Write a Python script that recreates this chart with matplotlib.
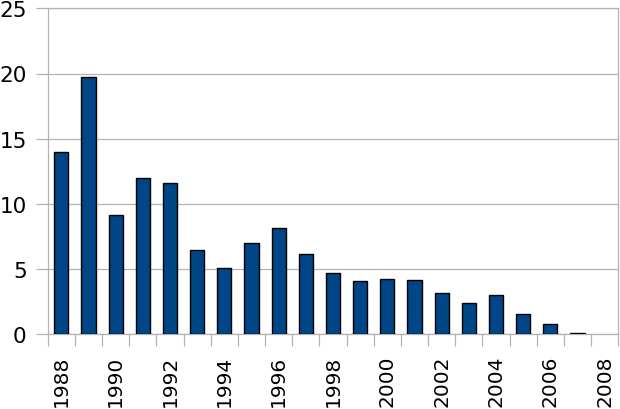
import numpy as np
import matplotlib
matplotlib.use("Agg")
import matplotlib.pyplot as plt

years = [str(y) for y in range(1988, 2009)]
values = [14.0, 19.7, 9.15, 12.0, 11.6, 6.5, 5.05, 7.0, 8.13, 6.13, 4.68,
          4.06, 4.22, 4.16, 3.14, 2.38, 2.99, 1.53, 0.77, 0.1, np.nan]
yticks = [0, 5, 10, 15, 20, 25]

plt.rcParams['font.family'] = ['DejaVu Sans']
GRAY = '#b3b3b3'

fig = plt.figure(figsize=(6.2, 4.1), dpi=100)
ax = fig.add_axes([47.7 / 620, (410 - 335.3) / 410, (618.3 - 47.7) / 620, (335.3 - 9.3) / 410])

x = np.arange(len(years))
ax.bar(x, values, width=0.52, color='#004586', edgecolor='black', linewidth=1.0, zorder=3)

ax.set_xlim(-0.5, len(years) - 0.5)
ax.set_ylim(0, 25)
ax.set_yticks(yticks)
ax.set_yticklabels([str(v) for v in yticks], fontsize=15.5)
ax.yaxis.grid(True, color=GRAY, linewidth=0.9, zorder=0)
ax.set_axisbelow(True)

# boundary ticks (major) without labels
ax.set_xticks(np.arange(len(years) + 1) - 0.5)
ax.set_xticklabels([])
# labels at every other category (minor ticks with zero length)
lab_idx = list(range(0, len(years), 2))
ax.set_xticks(lab_idx, minor=True)
ax.set_xticklabels([years[i] for i in lab_idx], minor=True, rotation=90, fontsize=14.5, va='top', ha='center')

ax.tick_params(axis='x', which='major', length=8.6, width=0.9, color=GRAY)
ax.tick_params(axis='x', which='minor', length=0, pad=14.5)
ax.tick_params(axis='y', which='major', length=8.6, width=0.9, color=GRAY, pad=6.5)

for s in ax.spines.values():
    s.set_color(GRAY)
    s.set_linewidth(0.9)

fig.savefig('out.png', dpi=100)
